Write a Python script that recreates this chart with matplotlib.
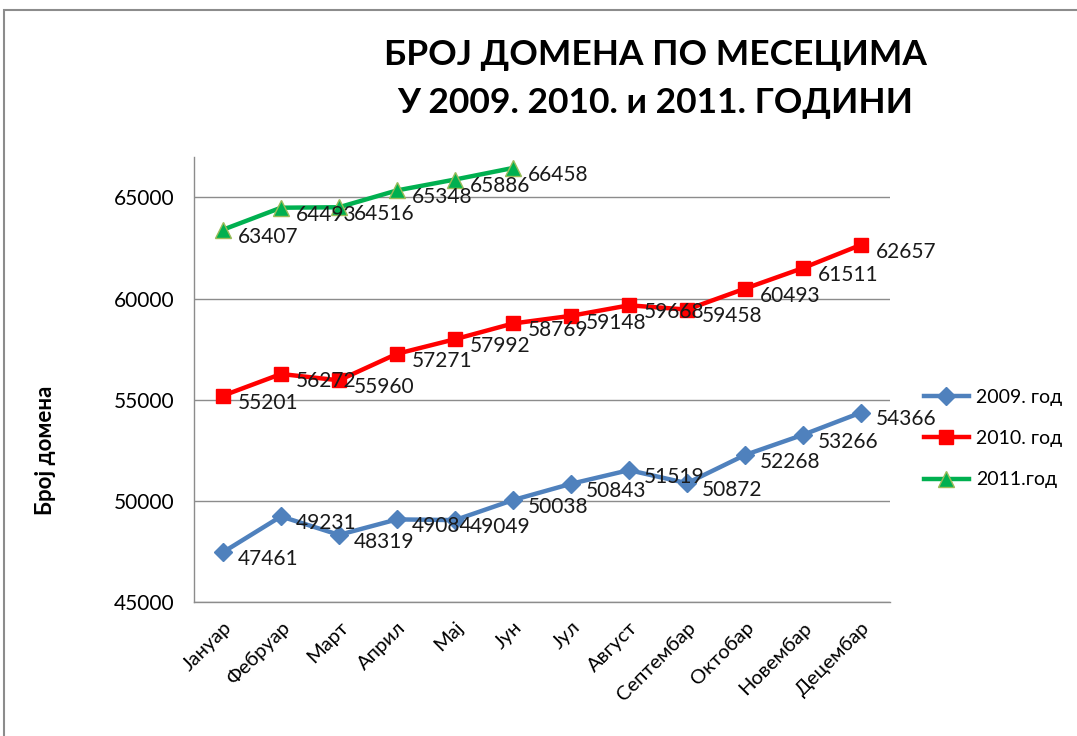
"""Број домена по месецима, 2009-2011"""

import matplotlib

matplotlib.use("Agg")
import matplotlib.pyplot as plt
from matplotlib.patches import Rectangle

plt.rcParams["font.family"] = ["Lato", "Noto Sans", "DejaVu Sans"]

months = ["Јануар", "Фебруар", "Март", "Април", "Мај", "Јун",
          "Јул", "Август", "Септембар", "Октобар", "Новембар", "Децембар"]
y2009 = [47461, 49231, 48319, 49084, 49049, 50038, 50843, 51519, 50872, 52268, 53266, 54366]
y2010 = [55201, 56272, 55960, 57271, 57992, 58769, 59148, 59668, 59458, 60493, 61511, 62657]
y2011 = [63407, 64493, 64516, 65348, 65886, 66458]
series_names = ["2009. год", "2010. год", "2011.год"]
yticks = [45000, 50000, 55000, 60000, 65000]

W, H = 1077, 736
fig = plt.figure(figsize=(W / 100, H / 100), dpi=100)
ax = fig.add_axes([194 / W, 1 - 602 / H, (890 - 194) / W, (602 - 157) / H])

# рамка графикона
fig.patches.append(Rectangle((4 / W, -0.1), 1.2, 1.1 - 10 / H, transform=fig.transFigure,
                             fill=False, edgecolor="#8c8c8c", linewidth=1.5))

styles = [
    dict(color="#4F81BD", marker="D", markersize=9, markeredgecolor="#4F81BD"),
    dict(color="#FF0000", marker="s", markersize=9.5, markeredgecolor="#FF0000"),
    dict(color="#00B050", marker="^", markersize=12, markeredgecolor="#9BBB59"),
]
x = list(range(len(months)))
for vals, name, st in zip([y2009, y2010, y2011], series_names, styles):
    xs = x[: len(vals)]
    ax.plot(xs, vals, linewidth=3.2, label=name, zorder=3, **st)
    for xi, v in zip(xs, vals):
        ax.annotate(str(v), (xi, v), xytext=(11, -5), textcoords="offset points",
                    ha="left", va="center", fontsize=15, color="#1a1a1a", zorder=4)

ax.set_xlim(-0.5, len(months) - 0.5)
ax.set_ylim(45000, 67000)
ax.set_yticks(yticks)
ax.set_yticklabels([str(t) for t in yticks], fontsize=15)
ax.set_xticks(x)
ax.set_xticklabels(months, rotation=45, ha="right", rotation_mode="anchor", fontsize=14.5)
ax.tick_params(length=0)
ax.tick_params(axis="y", pad=14)
ax.tick_params(axis="x", pad=12)
ax.grid(axis="y", color="#8c8c8c", linewidth=1)
ax.set_axisbelow(True)
for side in ["top", "right"]:
    ax.spines[side].set_visible(False)
for side in ["left", "bottom"]:
    ax.spines[side].set_color("#8c8c8c")
    ax.spines[side].set_linewidth(1)

fig.legend(loc="upper left", bbox_to_anchor=(916 / W, 1 - 381 / H), frameon=False,
           fontsize=14, handlelength=2.3, labelspacing=1.25, handletextpad=0.4,
           borderaxespad=0)

fig.text(655 / W, 1 - 55 / H, "БРОЈ ДОМЕНА ПО МЕСЕЦИМА", ha="center", va="center",
         fontsize=25.5, fontweight="bold")
fig.text(655 / W, 1 - 103 / H, "У 2009. 2010. и 2011. ГОДИНИ", ha="center", va="center",
         fontsize=25.5, fontweight="bold")
fig.text(45 / W, 1 - 450 / H, "Број домена", rotation=90, ha="center", va="center",
         fontsize=16, fontweight="bold")

fig.savefig("out.png", dpi=100)
plt.close(fig)
